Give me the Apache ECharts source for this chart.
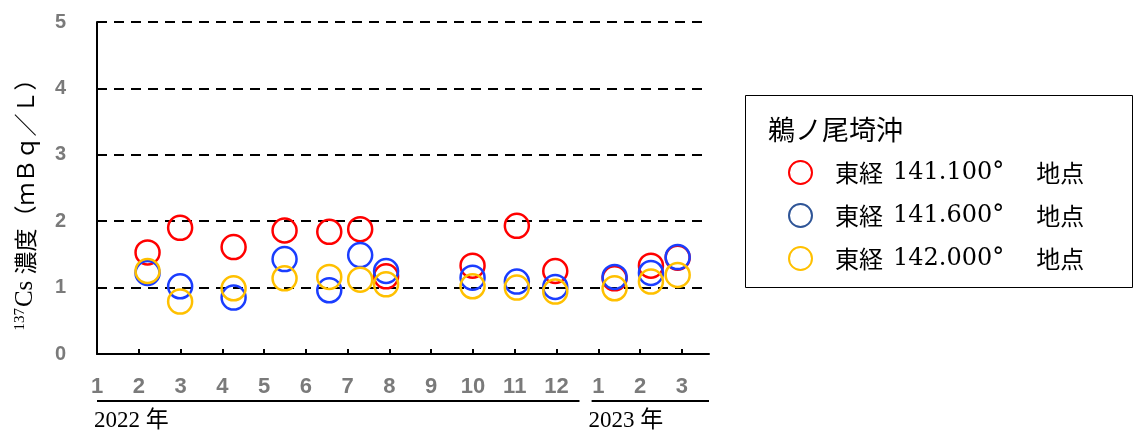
<!DOCTYPE html>
<html>
<head>
<meta charset="utf-8">
<script src="https://cdn.jsdelivr.net/npm/echarts@6/dist/echarts.min.js"></script>
<style>
html,body{margin:0;padding:0;background:#fff;}
#c{width:1136px;height:432px;}
</style>
</head>
<body>
<div id="c"></div>
<script>
// ---- data (x = month position: 1 = Jan 2022 ... 13 = Jan 2023) ----
const sampleX = [2.21, 2.99, 4.27, 5.49, 6.56, 7.30, 7.92, 9.99, 11.05, 11.97, 13.39, 14.26, 14.90];
const st1100 = [1.53, 1.90, 1.61, 1.86, 1.84, 1.88, 1.17, 1.33, 1.93, 1.25, 1.14, 1.33, 1.45];
const st1600 = [1.22, 1.02, 0.85, 1.43, 0.96, 1.49, 1.25, 1.15, 1.09, 1.01, 1.16, 1.22, 1.46];
const st2000 = [1.25, 0.79, 0.99, 1.14, 1.16, 1.12, 1.05, 1.02, 1.00, 0.94, 0.99, 1.09, 1.19];
const monthTicks = [1,2,3,4,5,6,7,8,9,10,11,12,13,14,15];
const monthLabels = ['1','2','3','4','5','6','7','8','9','10','11','12','1','2','3'];
const yearLabels = ['2022 年', '2023 年'];
const seriesNames = ['東経 141.100°　地点', '東経 141.600°　地点', '東経 142.000°　地点'];
const legendTitle = '鵜ノ尾埼沖';

const pair = (xs, ys) => xs.map((x, i) => [x, ys[i]]);
const serif = "'DejaVu Serif','Noto Sans CJK JP',serif";
const serifL = "'Liberation Serif','Noto Sans CJK JP',serif";
const jp = "'Noto Sans CJK JP',serif";
const sans = "'Liberation Sans','Noto Sans',sans-serif";

const chartColors = ['#FF0000', '#1A3DFF', '#FFC000'];
const legendColors = ['#FF0000', '#2F5597', '#FFC000'];
const seriesData = [st1100, st1600, st2000];

const chart = echarts.init(document.getElementById('c'), null, {renderer: 'canvas'});

const option = {
  animation: false,
  backgroundColor: '#fff',
  grid: {left: 97, right: 427, top: 22, bottom: 78, containLabel: false},
  title: {
    text: legendTitle, left: 763, top: 111,
    textStyle: {fontFamily: jp, fontSize: 27, fontWeight: 'normal', color: '#000'}
  },
  legend: {
    orient: 'vertical', left: 783, top: 155, itemWidth: 23, itemHeight: 23, itemGap: 18,
    icon: 'circle',
    formatter: name => {
      const m = name.match(/^(\S+) (\S+)(.*)$/);
      return '{j|' + m[1] + '}{n|' + m[2] + '}{j|' + m[3] + '}';
    },
    textStyle: {
      color: '#000', padding: [0, 0, 0, 18],
      rich: {
        j: {fontFamily: jp, fontSize: 24, color: '#000'},
        n: {fontFamily: serif, fontSize: 24, color: '#000', padding: [0, 8, 0, 10]}
      }
    },
    data: seriesNames.map((n, i) => ({
      name: n,
      itemStyle: {color: 'rgba(0,0,0,0)', borderColor: legendColors[i], borderWidth: 2}
    }))
  },
  xAxis: {
    type: 'value', min: 1, max: 15.65, interval: 1,
    axisLine: {show: true, onZero: false, lineStyle: {color: '#000', width: 2}},
    axisTick: {show: true, inside: true, length: 5, lineStyle: {color: '#000', width: 2},
               customValues: monthTicks.slice(1)},
    axisLabel: {customValues: monthTicks, formatter: v => monthLabels[Math.round(v) - 1] || '',
                fontFamily: sans, fontSize: 22, fontWeight: 'bold', color: '#7a7a7a', margin: 22},
    splitLine: {show: false}
  },
  yAxis: {
    type: 'value', min: 0, max: 5, interval: 1,
    axisLine: {show: true, lineStyle: {color: '#000', width: 2}},
    axisTick: {show: false},
    axisLabel: {fontFamily: sans, fontSize: 20, fontWeight: 'bold', color: '#7a7a7a', margin: 31},
    splitLine: {show: true, lineStyle: {color: '#000', width: 2, type: [10, 7]}},
    name: '{sup|137}{t|Cs }{j|濃度（ｍＢｑ／Ｌ）}',
    nameLocation: 'middle', nameRotate: 90, nameGap: 59,
    nameTextStyle: {
      padding: [0, 22, 0, 0],
      rich: {
        sup: {fontFamily: serifL, fontSize: 15, color: '#000', verticalAlign: 'top', padding: [0, 1, 9, 0]},
        t: {fontFamily: serifL, fontSize: 25, color: '#000'},
        j: {fontFamily: jp, fontSize: 23, color: '#000'}
      }
    }
  },
  series: seriesData.map((d, i) => ({
    name: seriesNames[i], type: 'scatter', symbol: 'circle', symbolSize: 24,
    data: pair(sampleX, d),
    itemStyle: {color: 'rgba(0,0,0,0)', borderColor: chartColors[i], borderWidth: 2.5, opacity: 1},
    z: 2 + i
  }))
};
chart.setOption(option);

// annotation: year underlines and year labels beneath the month axis (positions via axis scale)
const px = v => chart.convertToPixel({xAxisIndex: 0}, v);
const y0 = chart.convertToPixel({yAxisIndex: 0}, 0);
const lineY = y0 + 47;
const yearSpans = [[1, 12.55], [12.84, 15.65]];
chart.setOption({
  graphic: [
    {type: 'rect', shape: {x: 745.5, y: 95.5, width: 387, height: 192},
     style: {fill: 'none', stroke: '#000', lineWidth: 1}},
    ...yearSpans.map(s => ({type: 'line', shape: {x1: px(s[0]), y1: lineY, x2: px(s[1]), y2: lineY},
      style: {stroke: '#000', lineWidth: 2}})),
    ...yearSpans.map((s, i) => ({type: 'text', x: px(s[0]) - 3, y: lineY + 8,
      style: {text: yearLabels[i], font: "23px 'Liberation Serif','Noto Sans CJK JP',serif", fill: '#000'}}))
  ]
});
</script>
</body>
</html>
